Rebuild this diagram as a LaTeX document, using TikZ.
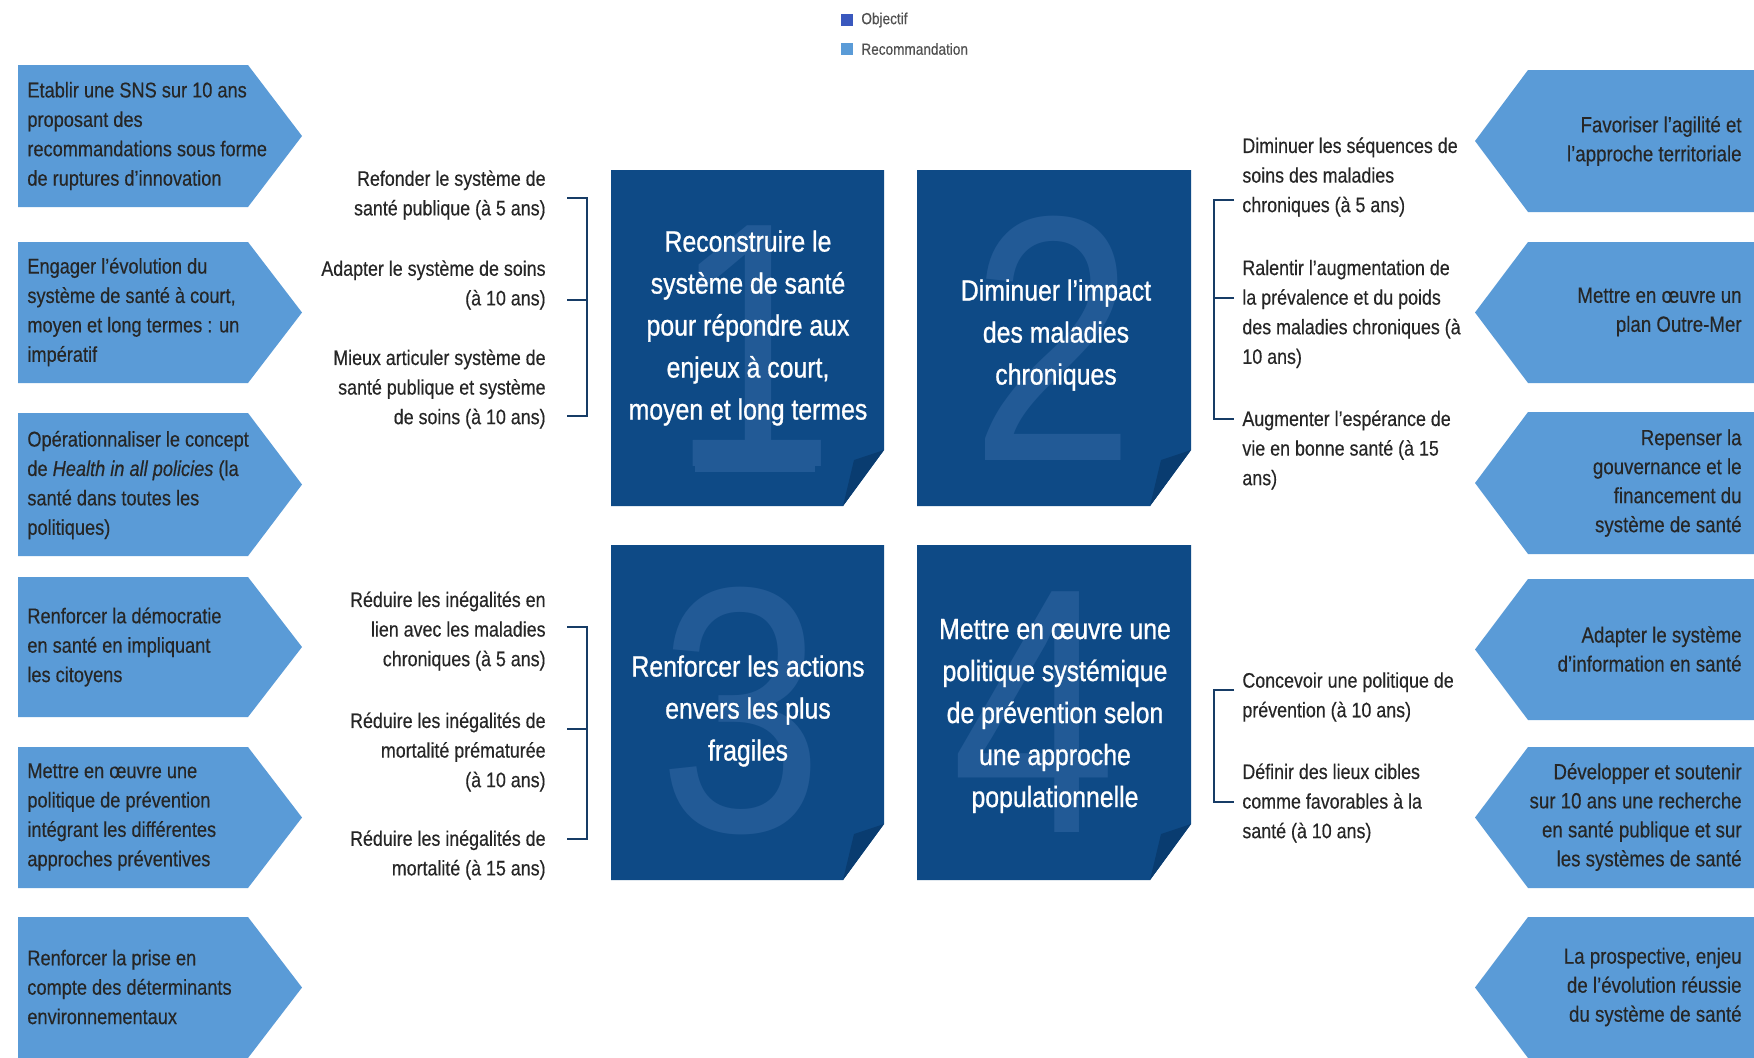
\documentclass[tikz,border=0pt]{standalone}
\usepackage{fontspec}
\setmainfont{Liberation Sans}[FakeStretch=0.85]
\newfontfamily\semifont{Liberation Sans}[Ligatures=TeX, FakeStretch=0.85, FakeBold=0.35]
\newfontfamily\heavyfont{Liberation Sans}[Ligatures=TeX, FakeStretch=0.85, FakeBold=0.9]
\definecolor{recblue}{RGB}{90,155,215}
\definecolor{objblue}{RGB}{14,74,134}
\definecolor{digitblue}{RGB}{34,90,150}
\definecolor{foldblue}{RGB}{9,60,112}
\definecolor{legblue}{RGB}{58,88,190}
\definecolor{txt}{RGB}{38,38,38}
\definecolor{brk}{RGB}{23,60,102}
\definecolor{legtxt}{RGB}{80,80,80}
\newcommand\leftarrowbox[2]{\fill[recblue] (18,#1) -- (248,#1) -- (302,{(#1+#2)/2}) -- (248,#2) -- (18,#2) -- cycle;}
\newcommand\rightarrowbox[2]{\fill[recblue] (1754,#1) -- (1528,#1) -- (1475,{(#1+#2)/2}) -- (1528,#2) -- (1754,#2) -- cycle;}
\newcommand\objbox[4]{%
  \fill[objblue] (#1,#2) -- (#3,#2) -- (#3,#4-56) -- (#3-41,#4) -- (#1,#4) -- cycle;
  \fill[foldblue] (#3,#4-56) -- (#3-41,#4) -- (#3-30,#4-46) -- cycle;}
\begin{document}
\begin{tikzpicture}[x=0.5pt,y=-0.5pt,
  lbox/.style={anchor=west, align=left, text=txt, inner sep=0pt, font=\semifont\fontsize{10.7}{14.7}\selectfont},
  rbox/.style={anchor=east, align=right, text=txt, inner sep=0pt, font=\semifont\fontsize{11}{14.5}\selectfont},
  goalL/.style={anchor=east, align=right, text=txt, inner sep=0pt, font=\semifont\fontsize{10.5}{14.8}\selectfont},
  goalR/.style={anchor=west, align=left, text=txt, inner sep=0pt, font=\semifont\fontsize{10.5}{14.8}\selectfont},
  objtxt/.style={align=center, text=white, inner sep=0pt, font=\heavyfont\fontsize{14.6}{21}\selectfont},
  digit/.style={text=digitblue, inner sep=0pt, font=\fontsize{175}{175}\selectfont},
  brack/.style={draw=brk, line width=1.4pt},
  legsq/.style={inner sep=0pt, minimum width=6pt, minimum height=6pt},
  legtext/.style={anchor=west, inner sep=0pt, text=legtxt, font=\semifont\fontsize{8}{9}\selectfont}
]
\useasboundingbox (0,0) rectangle (1754,1057);
\fill[white] (0,0) rectangle (1754,1057);

% legend
\node[legsq, fill=legblue] (lq1) at (847,20) {};
\node[legtext] (lt1) at (861,20) {Objectif};
\node[legsq, fill=recblue] (lq2) at (847,49) {};
\node[legtext] (lt2) at (861,49) {Recommandation};

% left recommendation arrows
\leftarrowbox{65}{207}
\leftarrowbox{242}{383}
\leftarrowbox{413}{556}
\leftarrowbox{577}{717}
\leftarrowbox{747}{888}
\leftarrowbox{917}{1058}
\node[lbox] (l1) at (27,136) {Etablir une SNS sur 10 ans\\proposant des\\recommandations sous forme\\de ruptures d'innovation};
\node[lbox] (l2) at (27,312) {Engager l'évolution du\\système de santé à court,\\moyen et long termes : un\\impératif};
\node[lbox] (l3) at (27,485) {Opérationnaliser le concept\\de \textit{Health in all policies} (la\\santé dans toutes les\\politiques)};
\node[lbox] (l4) at (27,647) {Renforcer la démocratie\\en santé en impliquant\\les citoyens};
\node[lbox] (l5) at (27,817) {Mettre en œuvre une\\politique de prévention\\intégrant les différentes\\approches préventives};
\node[lbox] (l6) at (27,987) {Renforcer la prise en\\compte des déterminants\\environnementaux};

% right recommendation arrows
\rightarrowbox{70}{212}
\rightarrowbox{242}{383}
\rightarrowbox{412}{554}
\rightarrowbox{579}{720}
\rightarrowbox{747}{888}
\rightarrowbox{917}{1058}
\node[rbox] (r1) at (1742,141) {Favoriser l'agilité et\\l'approche territoriale};
\node[rbox] (r2) at (1742,312) {Mettre en œuvre un\\plan Outre-Mer};
\node[rbox] (r3) at (1742,483) {Repenser la\\gouvernance et le\\financement du\\système de santé};
\node[rbox] (r4) at (1742,649) {Adapter le système\\d'information en santé};
\node[rbox] (r5) at (1742,817) {Développer et soutenir\\sur 10 ans une recherche\\en santé publique et sur\\les systèmes de santé};
\node[rbox] (r6) at (1742,987) {La prospective, enjeu\\de l'évolution réussie\\du système de santé};

% objective boxes
\objbox{611}{170}{884}{506}
\objbox{917}{170}{1191}{506}
\objbox{611}{545}{884}{880}
\objbox{917}{545}{1191}{880}
\node[digit] (d1) at (753,346) {1};
\fill[digitblue] (695,456) rectangle (815,472);
\node[digit] (d2) at (1053,338) {2};
\node[digit] (d3) at (741,711) {3};
\node[digit] (d4) at (1034,712) {4};
\node[objtxt] (o1) at (748,328) {Reconstruire le\\système de santé\\pour répondre aux\\enjeux à court,\\moyen et long termes};
\node[objtxt] (o2) at (1056,335) {Diminuer l'impact\\des maladies\\chroniques};
\node[objtxt] (o3) at (748,711) {Renforcer les actions\\envers les plus\\fragiles};
\node[objtxt] (o4) at (1055,716) {Mettre en œuvre une\\politique systémique\\de prévention selon\\une approche\\populationnelle};

% goals, objective 1
\node[goalL] (g1a) at (546,195) {Refonder le système de\\santé publique (à 5 ans)};
\node[goalL] (g1b) at (546,285) {Adapter le système de soins\\(à 10 ans)};
\node[goalL] (g1c) at (546,389) {Mieux articuler système de\\santé publique et système\\de soins (à 10 ans)};
% goals, objective 3
\node[goalL] (g3a) at (546,631) {Réduire les inégalités en\\lien avec les maladies\\chroniques (à 5 ans)};
\node[goalL] (g3b) at (546,752) {Réduire les inégalités de\\mortalité prématurée\\(à 10 ans)};
\node[goalL] (g3c) at (546,855) {Réduire les inégalités de\\mortalité (à 15 ans)};
% goals, objective 2
\node[goalR] (g2a) at (1242,177) {Diminuer les séquences de\\soins des maladies\\chroniques (à 5 ans)};
\node[goalR] (g2b) at (1242,314) {Ralentir l'augmentation de\\la prévalence et du poids\\des maladies chroniques (à\\10 ans)};
\node[goalR] (g2c) at (1242,450) {Augmenter l'espérance de\\vie en bonne santé (à 15\\ans)};
% goals, objective 4
\node[goalR] (g4a) at (1242,697) {Concevoir une politique de\\prévention (à 10 ans)};
\node[goalR] (g4b) at (1242,803) {Définir des lieux cibles\\comme favorables à la\\santé (à 10 ans)};

% brackets
\coordinate (b1t) at (567,198);
\coordinate (b1m) at (567,300);
\coordinate (b1b) at (567,416);
\draw[brack] (b1t) -- ++(20,0) |- (b1b);
\draw[brack] (b1m) -- ++(20,0);
\coordinate (b3t) at (567,627);
\coordinate (b3m) at (567,729);
\coordinate (b3b) at (567,839);
\draw[brack] (b3t) -- ++(20,0) |- (b3b);
\draw[brack] (b3m) -- ++(20,0);
\coordinate (b2t) at (1234,200);
\coordinate (b2m) at (1234,298);
\coordinate (b2b) at (1234,419);
\draw[brack] (b2t) -- ++(-20,0) |- (b2b);
\draw[brack] (b2m) -- ++(-20,0);
\coordinate (b4t) at (1234,690);
\coordinate (b4b) at (1234,802);
\draw[brack] (b4t) -- ++(-20,0) |- (b4b);
\end{tikzpicture}
\end{document}
